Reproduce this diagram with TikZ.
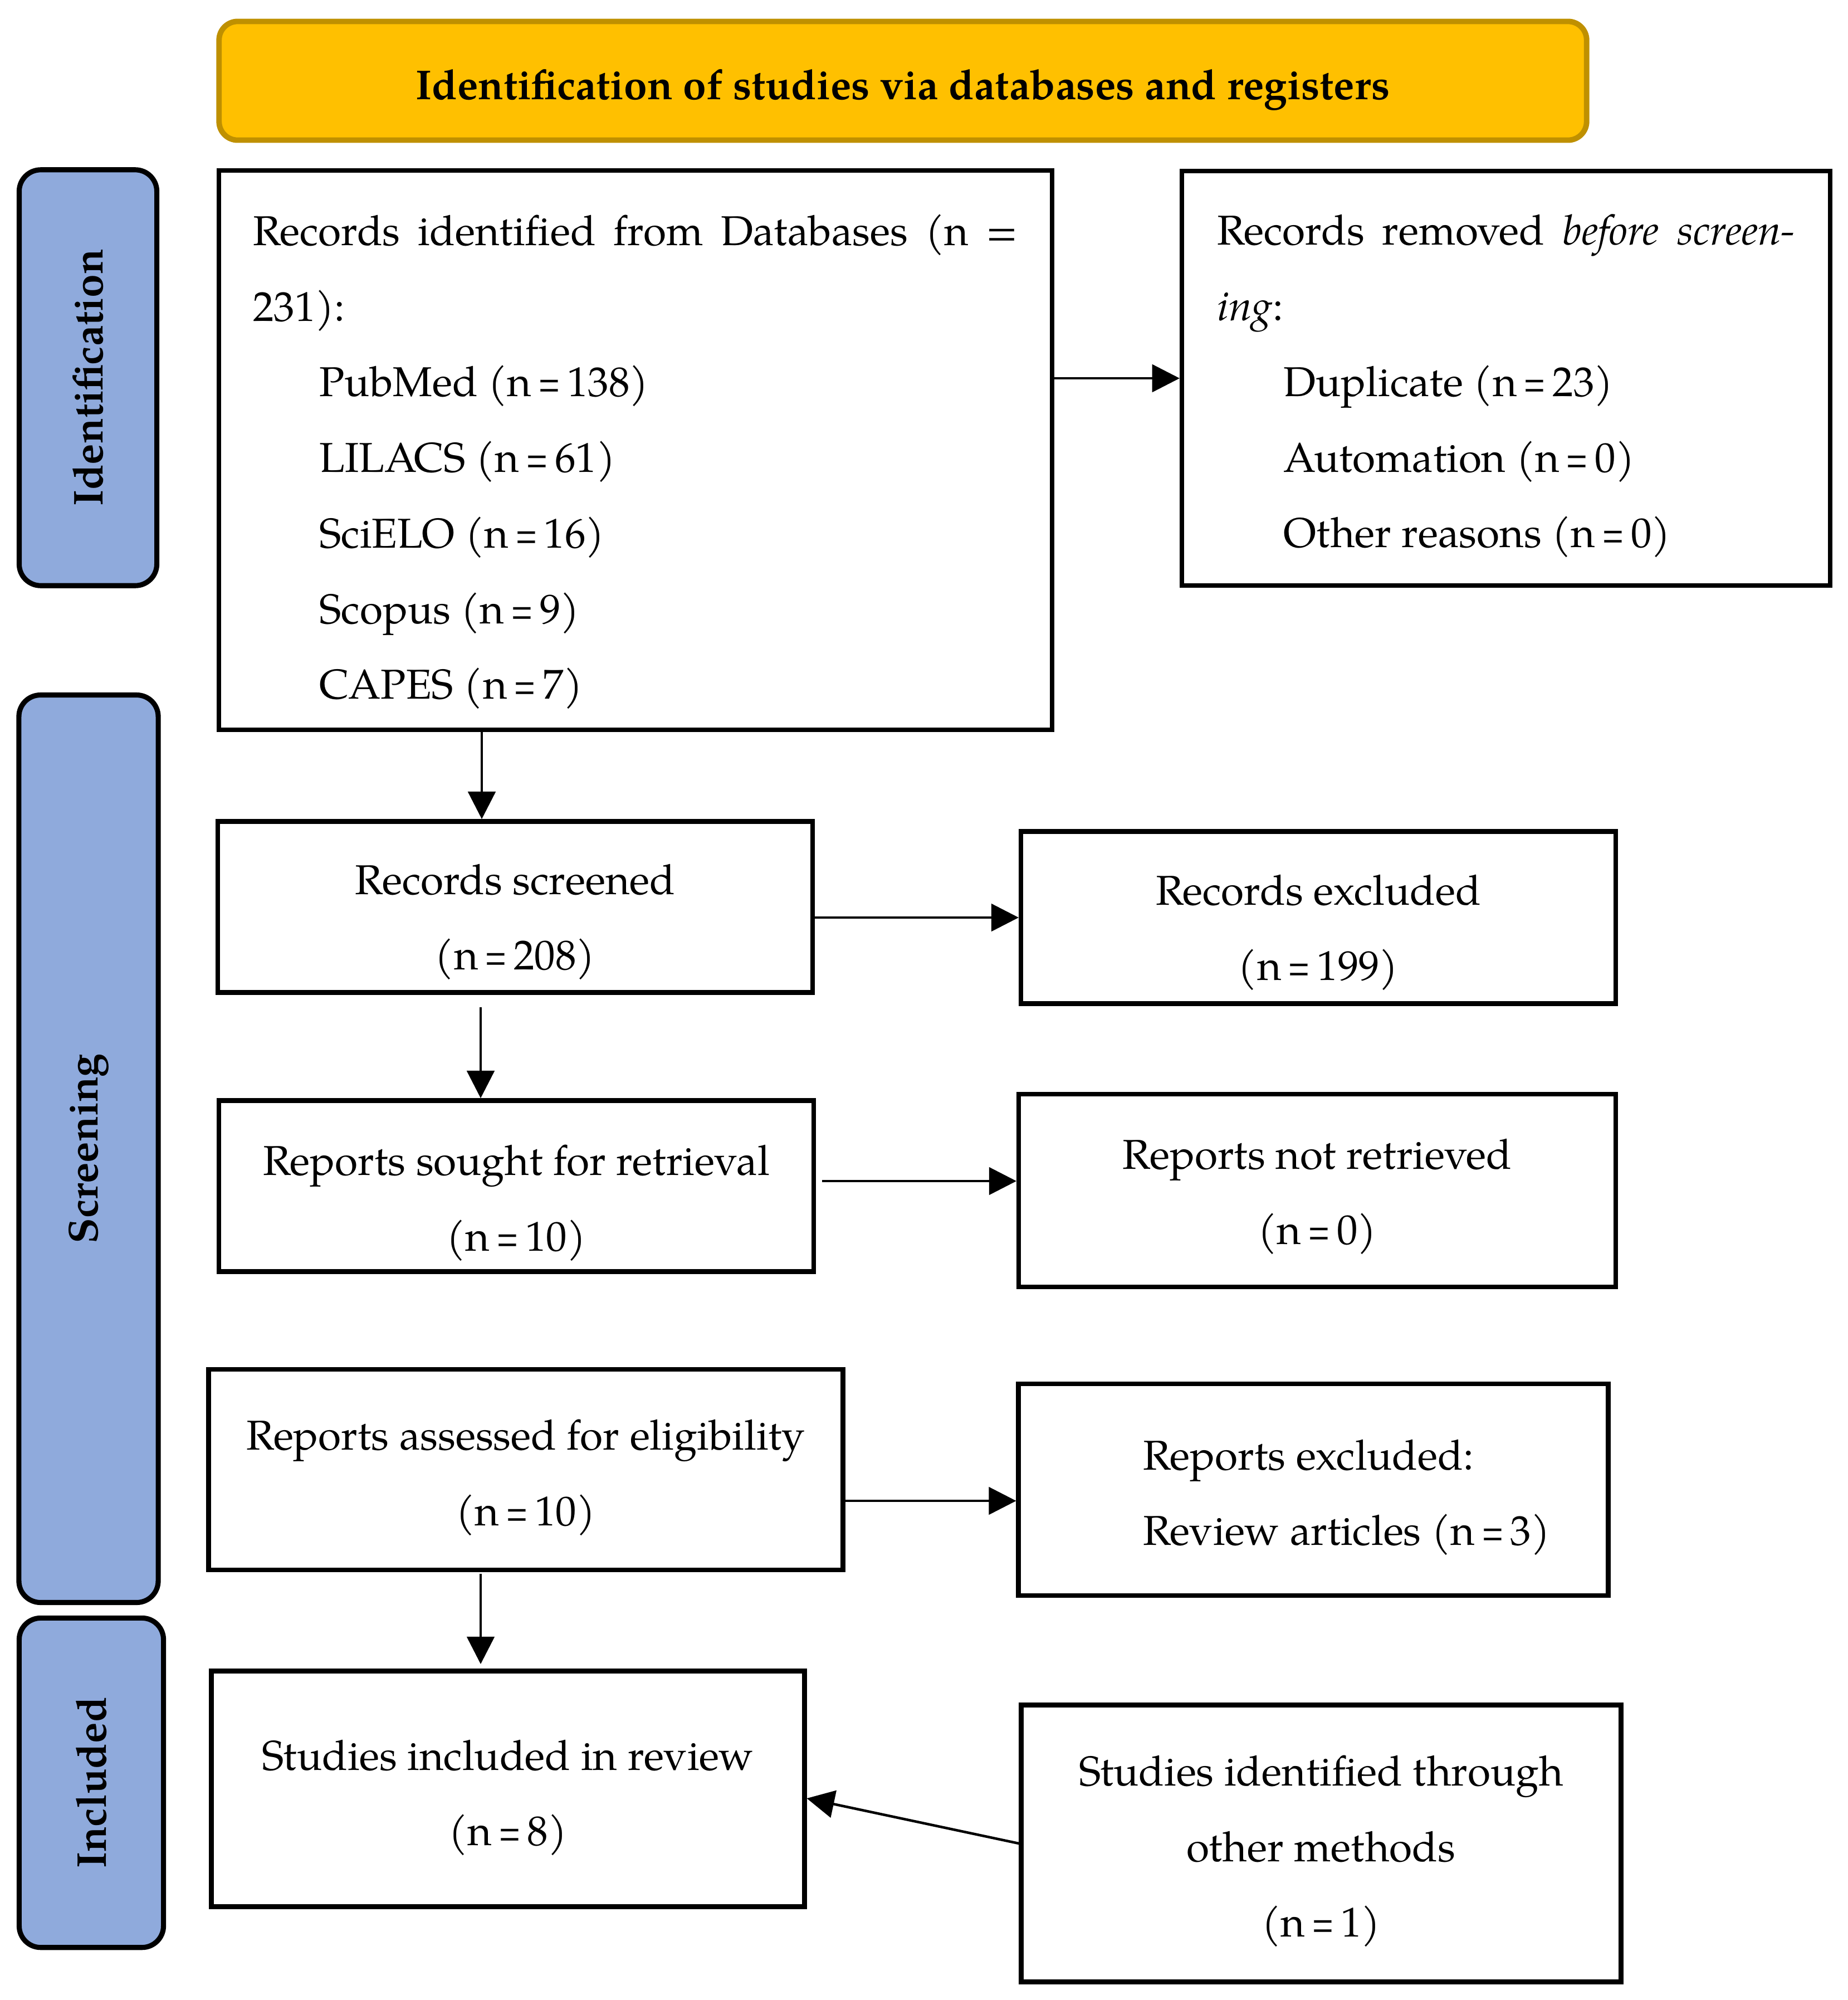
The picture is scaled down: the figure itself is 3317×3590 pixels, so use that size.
\documentclass[tikz,border=0pt]{standalone}
\usepackage{fontspec}
\setmainfont{TeX Gyre Pagella}
\usetikzlibrary{arrows.meta,calc}
\definecolor{gold}{HTML}{FFC000}
\definecolor{golddark}{HTML}{BF9000}
\definecolor{phase}{HTML}{8FAADC}
\newcommand\eqsign{\hspace{0.16em}\scalebox{0.7}[1]{=}\hspace{0.16em}}
\begin{document}
\begin{tikzpicture}[x=0.01cm,y=-0.01cm,
  every node/.style={font=\fontsize{21.3}{38.6}\selectfont},
  box/.style={draw, line width=2.4pt, inner sep=0pt},
  txt/.style={inner sep=0pt, align=center},
  phasebox/.style={draw, fill=phase, line width=2.6pt, rounded corners=11pt, inner sep=0pt, rotate=90, font=\fontsize{21.3}{38.6}\selectfont\bfseries},
  arr/.style={line width=1.3pt, -{Triangle[length=14pt,width=14pt]}}]
\useasboundingbox (0,0) rectangle (3317,3590);

\node[draw=golddark, fill=gold, line width=2.8pt, rounded corners=9.5pt, minimum width=24.54cm, minimum height=2.13cm] (head) at (1621,145) {};
\node[txt, font=\fontsize{21.3}{38.6}\selectfont\bfseries] (headt) at ($(head.center)+(0,16)$) {Identification of studies via databases and registers};

\node[phasebox, minimum width=7.46cm, minimum height=2.47cm] (pid) at (158,678) {Identification};
\node[phasebox, minimum width=16.28cm, minimum height=2.50cm] (psc) at (159,2062) {Screening};
\node[phasebox, minimum width=5.91cm, minimum height=2.59cm] (pin) at (164,3200) {Included};

\node[box, minimum width=14.95cm, minimum height=10.03cm] (b1) at (1141,808) {};
\node[txt, text width=13.73cm, align=justify] (t1) at ($(b1.center)+(0,21)$)
 {Records identified from Databases (n =\linebreak 231):\\
  \hspace*{34pt}PubMed (n\eqsign 138)\\
  \hspace*{34pt}LILACS (n\eqsign 61)\\
  \hspace*{34pt}SciELO (n\eqsign 16)\\
  \hspace*{34pt}Scopus (n\eqsign 9)\\
  \hspace*{34pt}CAPES (n\eqsign 7)};

\node[box, minimum width=11.63cm, minimum height=7.44cm] (b2) at (2704,679) {};
\node[txt, text width=10.37cm, align=justify] (t2) at ($(b2.center)+(0,14)$)
 {Records removed \textit{before screen-}\linebreak\textit{ing}:\\
  \hspace*{34pt}Duplicate (n\eqsign 23)\\
  \hspace*{34pt}Automation (n\eqsign 0)\\
  \hspace*{34pt}Other reasons (n\eqsign 0)};

\node[box, minimum width=10.67cm, minimum height=3.07cm] (b3) at (925,1628) {};
\node[txt] (t3) at ($(b3.center)+(0,27)$) {Records screened\\(n\eqsign 208)};
\node[box, minimum width=10.67cm, minimum height=3.09cm] (b4) at (2367,1647) {};
\node[txt] (t4) at ($(b4.center)+(0,27)$) {Records excluded\\(n\eqsign 199)};
\node[box, minimum width=10.67cm, minimum height=3.07cm] (b5) at (927,2129) {};
\node[txt] (t5) at ($(b5.center)+(0,30)$) {Reports sought for retrieval\\(n\eqsign 10)};
\node[box, minimum width=10.71cm, minimum height=3.46cm] (b6) at (2365,2137) {};
\node[txt] (t6) at ($(b6.center)+(0,11)$) {Reports not retrieved\\(n\eqsign 0)};
\node[box, minimum width=11.38cm, minimum height=3.60cm] (b7) at (944,2638) {};
\node[txt] (t7) at ($(b7.center)+(0,14)$) {Reports assessed for eligibility\\(n\eqsign 10)};
\node[box, minimum width=10.58cm, minimum height=3.80cm] (b8) at (2358,2674) {};
\node[txt, anchor=west, align=left] (t8) at ($(b8.west)+(227,14)$) {Reports excluded:\\Review articles (n\eqsign 3)};
\node[box, minimum width=10.64cm, minimum height=4.23cm] (b9) at (912,3211) {};
\node[txt] (t9) at ($(b9.center)+(0,16)$) {Studies included in review\\(n\eqsign 8)};
\node[box, minimum width=10.76cm, minimum height=4.97cm] (b10) at (2372,3309) {};
\node[txt] (t10) at ($(b10.center)+(0,14)$) {Studies identified through\\other methods\\(n\eqsign 1)};

\coordinate (a2x) at (865,0);
\coordinate (a4s) at (863,1808);
\coordinate (a5s) at (1476,2120);
\coordinate (a6y) at (0,2694);
\coordinate (a7s) at (863,2825);
\coordinate (a7e) at (863,2987);

\draw[arr] (b1.east |- b2.west) -- (b2.west);
\draw[arr] (a2x |- b1.south) -- (a2x |- b3.north);
\draw[arr] (b3.east |- b4.west) -- (b4.west);
\draw[arr] (a4s) -- (a4s |- b5.north);
\draw[arr] (a5s) -- (a5s -| b6.west);
\draw[arr] (b7.east |- a6y) -- (b8.west |- a6y);
\draw[arr] (a7s) -- (a7e);
\draw[arr] (b10.west) -- ($(b9.east)+(0,17)$);
\end{tikzpicture}
\end{document}
